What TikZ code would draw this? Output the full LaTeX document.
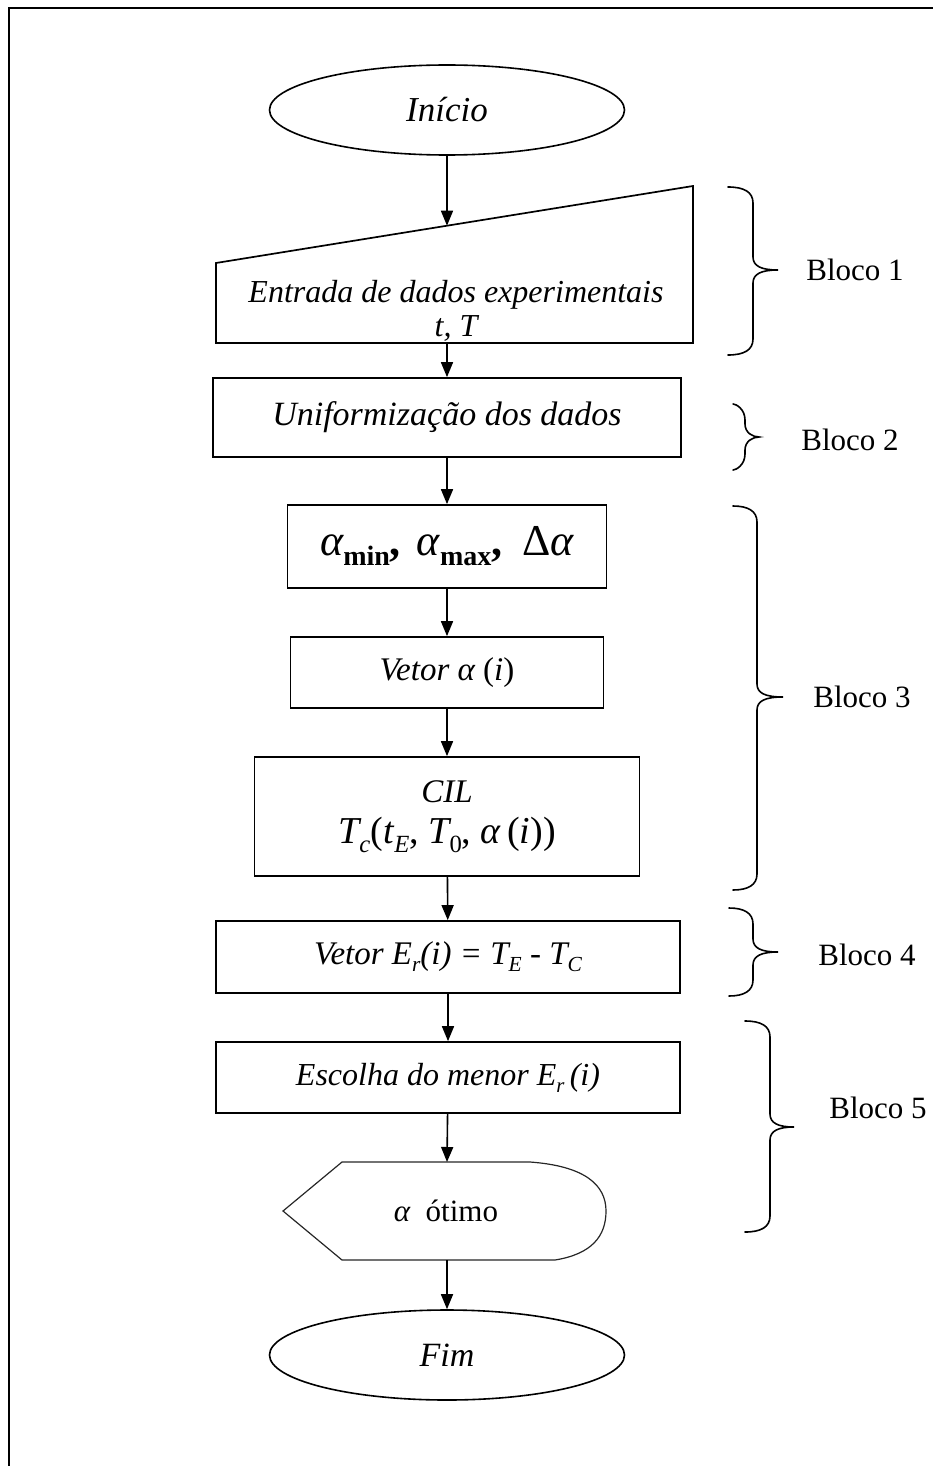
\documentclass[tikz,border=0pt]{standalone}
\usepackage{fontspec}
\setmainfont{Liberation Serif}
\usepackage{graphicx}
\usetikzlibrary{arrows.meta,shapes.geometric}
\newcommand{\fs}[1]{\fontsize{#1}{#1}\selectfont}
\newcommand{\lsub}[1]{\raisebox{-0.22em}{\scalebox{0.65}{#1}}}
\newcommand{\bsub}[1]{\raisebox{-10pt}{\fs{28}\bfseries #1}}
\newcommand{\bracepath}[6]{%
  \draw[bracestyle] (#1,#4) .. controls (#2-9,#4) and (#2,#4+5) .. (#2,#4+16) -- (#2,#5-13)
    .. controls (#2,#5-4) and (#2+8,#5) .. (#3,#5)
    .. controls (#2+8,#5) and (#2,#5+4) .. (#2,#5+13) -- (#2,#6-16)
    .. controls (#2,#6-5) and (#2-9,#6) .. (#1,#6);}
\begin{document}
\begin{tikzpicture}[x=1pt,y=-1pt,
  box/.style={draw, line width=1.7pt, inner sep=0pt, align=center},
  oval/.style={ellipse, draw, line width=1.6pt, inner sep=0pt, minimum width=355pt, minimum height=90pt},
  arr/.style={line width=1.6pt, -{Triangle[length=15pt,width=12pt]}},
  bracestyle/.style={line width=1.6pt, line cap=round},
  blk/.style={font=\fs{31}, inner sep=0pt},
  shp/.style={line width=1.7pt, line join=miter},
]
\useasboundingbox (0,0) rectangle (933,1466);
% frame
\draw[line width=2.6pt] (9,1466) -- (9,8) -- (933,8);

% start
\node[oval, font=\fs{35}\itshape] (ini) at (447,110) {Início};

% data input (manual input shape)
\draw[shp] (216,263) -- (693,186) -- (693,343) -- (216,343) -- cycle;
\coordinate (entTop) at (447,225.7);
\coordinate (entBot) at (447,343);
\node[align=center, inner sep=0pt, font=\fontsize{32}{34}\selectfont\itshape] (ent) at (456,311) {Entrada de dados experimentais\\t, T};

% boxes
\node[box, minimum width=468pt, minimum height=79pt, font=\fs{34}\itshape] (uni) at (447,417.5) {Uniformização dos dados};
\node[box, minimum width=319pt, minimum height=83pt, font=\fs{44}] (lim) at (447,546.5)
  {{\itshape α}\bsub{min}{\bfseries,}\hspace{16pt}{\itshape α}\bsub{max}{\bfseries,}\hspace{20pt}Δ{\itshape α}};
\node[box, minimum width=313pt, minimum height=71pt, font=\fs{33}] (vet) at (447,672.5)
  {{\itshape Vetor\ α}\ (\textit{i})};
\node[box, minimum width=385pt, minimum height=119pt] (cil) at (447,816.5)
  {{\fs{33}\itshape CIL}\\[14pt]{\fs{38}{\itshape T}\lsub{\itshape c}(\textit{t}\lsub{\itshape E}, {\itshape T}\lsub{0}, {\itshape α}\,(\textit{i}))}};
\node[box, minimum width=464pt, minimum height=72pt, font=\fs{33}\itshape] (vetE) at (448,957)
  {Vetor E\lsub{r}(i) = T\lsub{E} - T\lsub{C}};
\node[box, minimum width=464pt, minimum height=71pt, font=\fs{32}\itshape] (esc) at (448,1077.5)
  {Escolha do menor E\lsub{r}\,(i)};

% display shape
\draw[line width=1.2pt, black!85] (342,1162) -- (283,1211) -- (342,1260) -- (555,1260)
  .. controls (592,1254) and (606,1236) .. (606,1211)
  .. controls (606,1185) and (585,1166) .. (530,1162) -- cycle;
\coordinate (dispTop) at (447,1162);
\coordinate (dispBot) at (447,1260);
\node[inner sep=0pt, font=\fs{31}] (disp) at (446,1211) {{\itshape α}\ \ ótimo};

% end
\node[oval, font=\fs{34}\itshape] (fim) at (447,1355) {Fim};

% connectors
\draw[arr] (ini) -- (entTop);
\draw[arr] (entBot) -- (uni);
\draw[arr] (uni) -- (lim);
\draw[arr] (lim) -- (vet);
\draw[arr] (vet) -- (cil);
\draw[arr] (cil) -- (vetE);
\draw[arr] (vetE) -- (esc);
\draw[arr] (esc) -- (dispTop);
\draw[arr] (dispBot) -- (fim);

% braces
\bracepath{728}{753}{778}{187}{270}{355}
\bracepath{733}{745}{759}{404}{437}{470}
\bracepath{733}{757}{783}{506}{697}{890}
\bracepath{729}{753}{778}{908}{952}{996}
\bracepath{745}{770}{794}{1021}{1127}{1232}

\node[blk] (b1) at (855,270) {Bloco 1};
\node[blk] (b2) at (850,440) {Bloco 2};
\node[blk] (b3) at (862,697) {Bloco 3};
\node[blk] (b4) at (867,955) {Bloco 4};
\node[blk] (b5) at (878,1108) {Bloco 5};
\end{tikzpicture}
\end{document}
